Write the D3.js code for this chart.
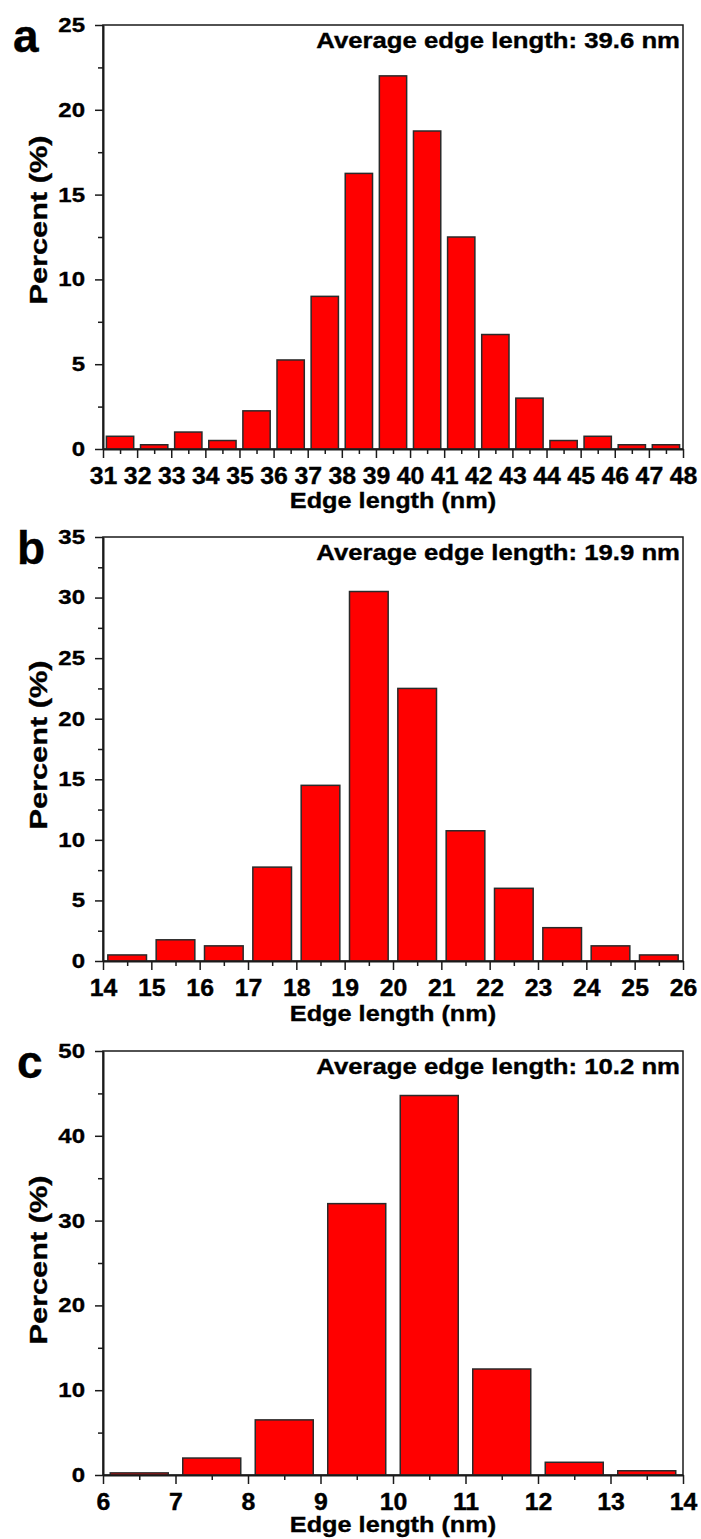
<!DOCTYPE html>
<html>
<head>
<meta charset="utf-8">
<script src="https://cdn.jsdelivr.net/npm/d3@7"></script>
<style>
  body { margin: 0; background: #fff; }
  svg { display: block; font-family: "Liberation Sans", Arial, sans-serif; font-weight: bold; }
  text { stroke: #000; stroke-width: 0.35px; }
</style>
</head>
<body>
<svg id="chart"></svg>
<script>
// bin start values (nm) and percent per bin
var binsA = [31, 32, 33, 34, 35, 36, 37, 38, 39, 40, 41, 42, 43, 44, 45, 46, 47];
var valsA = [0.75, 0.25, 1.0, 0.5, 2.25, 5.25, 9.0, 16.25, 22.0, 18.75, 12.5, 6.75, 3.0, 0.5, 0.75, 0.25, 0.25];

var binsB = [14, 15, 16, 17, 18, 19, 20, 21, 22, 23, 24, 25];
var valsB = [0.5, 1.75, 1.25, 7.75, 14.5, 30.5, 22.5, 10.75, 6.0, 2.75, 1.25, 0.5];

var binsC = [6, 7, 8, 9, 10, 11, 12, 13];
var valsC = [0.25, 2.0, 6.5, 32.0, 44.75, 12.5, 1.5, 0.5];

var letters = ['a', 'b', 'c'];
var averages = ['39.6', '19.9', '10.2'];
var xDomains = [[31, 48], [14, 26], [6, 14]];
var yDomains = [[0, 25], [0, 35], [0, 50]];
var yMajorSteps = [5, 5, 10];

var width = 701;
var height = 1539;
var left = 103, right = 683, plotH = 424;
var tops = [25, 537, 1051];
var yTitleShift = [-17, -4, -3];
var xTitleDy = [59, 60, 57];

var lineColor = '#1a1a1a';

var svg = d3.select('#chart')
  .attr('width', width)
  .attr('height', height);

// stretch text horizontally (in its own frame) to match the wide lettering of the figure
function stretch(sel, s) {
  sel.each(function() {
    var t = d3.select(this);
    var x = +t.attr('x') || 0;
    t.attr('x', x / s).attr('transform', 'scale(' + s + ',1)');
  });
}

var panels = [
  {bins: binsA, vals: valsA},
  {bins: binsB, vals: valsB},
  {bins: binsC, vals: valsC}
];

panels.forEach(function(p, i) {
  var top = tops[i];
  var g = svg.append('g')
    .attr('transform', 'translate(0,' + top + ')');

  var x = d3.scaleLinear().domain(xDomains[i]).range([left, right]);
  var y = d3.scaleLinear().domain(yDomains[i]).range([plotH, 0]);

  var xMajor = d3.range(xDomains[i][0], xDomains[i][1] + 0.001, 1);
  var xMinor = d3.range(xDomains[i][0] + 0.5, xDomains[i][1], 1);
  var ys = yMajorSteps[i];
  var yMajor = d3.range(0, yDomains[i][1] + 0.001, ys);
  var yMinor = d3.range(ys / 2, yDomains[i][1], ys);

  // frame (top and right sides show)
  g.append('rect')
    .attr('x', left)
    .attr('y', 0)
    .attr('width', right - left)
    .attr('height', plotH)
    .attr('fill', 'none')
    .attr('stroke', lineColor)
    .attr('stroke-width', 1.5);

  // bars
  g.append('g')
    .selectAll('rect')
    .data(p.bins.map(function(b, k) { return {bin: b, value: p.vals[k]}; }))
    .enter().append('rect')
      .attr('x', function(d) { return x(d.bin + 0.1); })
      .attr('y', function(d) { return y(d.value); })
      .attr('width', function(d) { return x(d.bin + 0.9) - x(d.bin + 0.1); })
      .attr('height', function(d) { return y(0) - y(d.value); })
      .attr('fill', '#ff0000')
      .attr('stroke', '#2a2a2a')
      .attr('stroke-width', 1.5);

  // minor ticks
  g.append('g')
    .attr('transform', 'translate(0,' + plotH + ')')
    .call(d3.axisBottom(x).tickValues(xMinor).tickSize(5).tickSizeOuter(0).tickFormat(''))
    .call(function(a) { a.select('.domain').remove(); })
    .selectAll('line').attr('stroke', lineColor).attr('stroke-width', 1.5);

  g.append('g')
    .attr('transform', 'translate(' + left + ',0)')
    .call(d3.axisLeft(y).tickValues(yMinor).tickSize(5).tickSizeOuter(0).tickFormat(''))
    .call(function(a) { a.select('.domain').remove(); })
    .selectAll('line').attr('stroke', lineColor).attr('stroke-width', 1.5);

  // x axis
  var xAxis = g.append('g')
    .attr('class', 'x-axis')
    .attr('transform', 'translate(0,' + plotH + ')')
    .call(d3.axisBottom(x).tickValues(xMajor).tickSize(9).tickPadding(10).tickSizeOuter(0).tickFormat(d3.format('d')));
  xAxis.select('.domain').attr('stroke', lineColor).attr('stroke-width', 2);
  xAxis.selectAll('line').attr('stroke', lineColor).attr('stroke-width', 1.5);
  xAxis.selectAll('text')
    .attr('font-size', 23)
    .attr('font-family', '"Liberation Sans", Arial, sans-serif')
    .attr('fill', '#000')
    .call(stretch, 1.08);

  // y axis
  var yAxis = g.append('g')
    .attr('class', 'y-axis')
    .attr('transform', 'translate(' + left + ',0)')
    .call(d3.axisLeft(y).tickValues(yMajor).tickSize(8).tickPadding(10).tickSizeOuter(0).tickFormat(d3.format('d')));
  yAxis.select('.domain').attr('stroke', lineColor).attr('stroke-width', 2);
  yAxis.selectAll('line').attr('stroke', lineColor).attr('stroke-width', 1.5);
  yAxis.selectAll('text')
    .attr('font-size', 20)
    .attr('font-family', '"Liberation Sans", Arial, sans-serif')
    .attr('fill', '#000')
    .call(stretch, 1.2);

  // axis titles
  g.append('text')
    .attr('text-anchor', 'middle')
    .attr('font-size', 22)
    .attr('x', 0)
    .attr('y', 0)
    .attr('transform', 'translate(' + (left + right) / 2 + ',' + (plotH + xTitleDy[i]) + ') scale(1.15,1)')
    .text('Edge length (nm)');

  g.append('text')
    .attr('text-anchor', 'middle')
    .attr('font-size', 24)
    .attr('transform', 'translate(47,' + (plotH / 2 + yTitleShift[i]) + ') rotate(-90) scale(1.28,1)')
    .text('Percent (%)');

  // average annotation
  g.append('text')
    .attr('text-anchor', 'end')
    .attr('font-size', 22)
    .attr('x', right - 3)
    .attr('y', 23)
    .text('Average edge length: ' + averages[i] + ' nm')
    .call(stretch, 1.17);

  // panel letter
  g.append('text')
    .attr('font-size', 46)
    .attr('x', i === 0 ? 13 : 17)
    .attr('y', 27)
    .text(letters[i]);
});
</script>
</body>
</html>
